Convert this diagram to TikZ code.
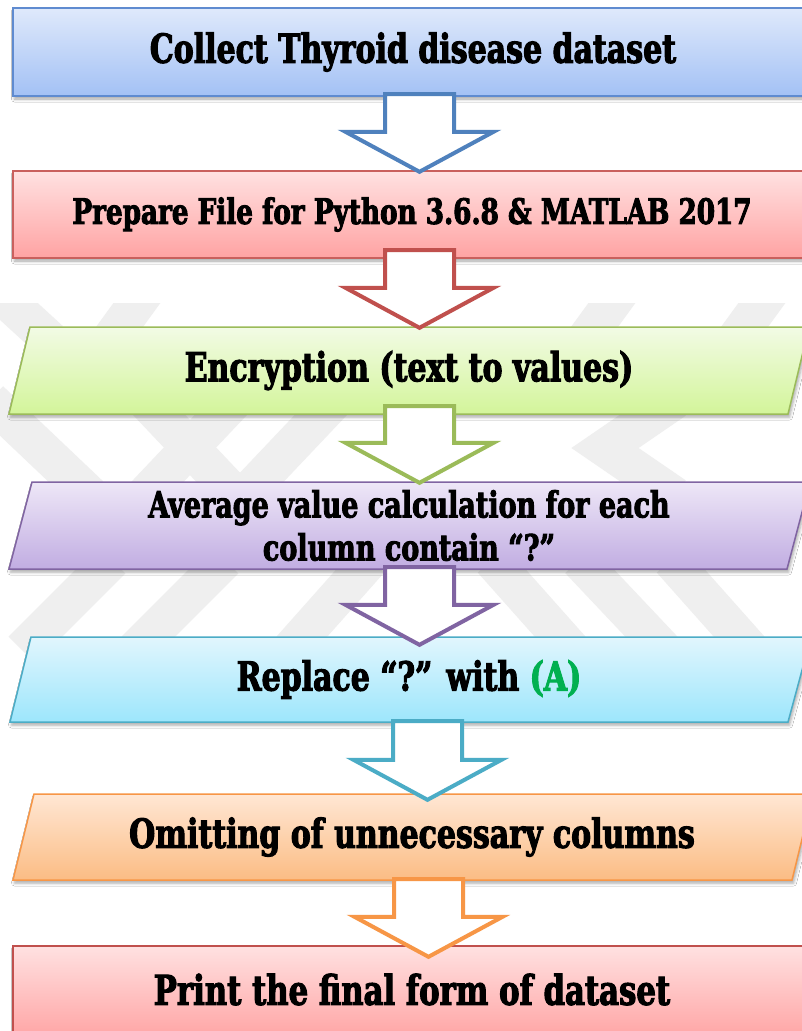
\documentclass[tikz,border=0pt]{standalone}
\usepackage{fontspec}
\usetikzlibrary{calc,shadows.blur}
\newfontfamily\stepfont{DejaVu Serif}[FakeStretch=0.75,FakeBold=2.5]

% box colours: border, top of gradient, bottom of gradient
\definecolor{bdA}{HTML}{5F8BD0}\definecolor{tpA}{HTML}{DFE9FB}\definecolor{btA}{HTML}{A3C1F5}
\definecolor{bdB}{HTML}{C9605D}\definecolor{tpB}{HTML}{FFE1E1}\definecolor{btB}{HTML}{FFA3A3}
\definecolor{bdC}{HTML}{9BBB59}\definecolor{tpC}{HTML}{F2FBE5}\definecolor{btC}{HTML}{D3F59A}
\definecolor{bdD}{HTML}{8064A2}\definecolor{tpD}{HTML}{EEE7F7}\definecolor{btD}{HTML}{C1ADE2}
\definecolor{bdE}{HTML}{4BACC6}\definecolor{tpE}{HTML}{E1F6FD}\definecolor{btE}{HTML}{9DE6FC}
\definecolor{bdF}{HTML}{F79646}\definecolor{tpF}{HTML}{FFE7D4}\definecolor{btF}{HTML}{FBBC84}
% arrow outlines
\definecolor{arA}{HTML}{4F81BD}\definecolor{arB}{HTML}{C0504D}\definecolor{arC}{HTML}{9BBB59}
\definecolor{arD}{HTML}{8064A2}\definecolor{arE}{HTML}{4BACC6}\definecolor{arF}{HTML}{F79646}
\definecolor{markgreen}{HTML}{00B050}
\definecolor{wmgray}{HTML}{EFEFEF}

% hollow block arrow: colour, from node, to node, axis x, shaft overlap, tip overlap
\newcommand\flowarrow[6]{%
  \draw[blockarrow, draw=#1] let \p1=(#2.south), \p2=(#3.north) in
    (#4-34.5pt,\y1+#5) -- (#4-34.5pt,\y2-#6+40pt) -- (#4-74pt,\y2-#6+40pt)
    -- (#4,\y2-#6) -- (#4+74pt,\y2-#6+40pt) -- (#4+34.5pt,\y2-#6+40pt)
    -- (#4+34.5pt,\y1+#5) -- cycle;}

\begin{document}
\begin{tikzpicture}[x=1pt,y=-1pt,
  boxshape/.style={line width=1.5pt,
    blur shadow={shadow xshift=1.5pt,shadow yshift=-3pt,shadow blur radius=3pt,shadow opacity=35}},
  steptext/.style={font=\stepfont\bfseries\fontsize{#1}{43}\selectfont,
    align=center,inner sep=0pt,text=black},
  blockarrow/.style={line width=4pt,fill=white,line join=miter},
  wm/.style={draw=wmgray,line width=38pt,line cap=butt,line join=miter}]
\clip (0,0) rectangle (802,1031);
\fill[white] (0,0) rectangle (802,1031);

% faint watermark stripes in the background
\begin{scope}
\clip (0,303) rectangle (802,660);
\draw[wm] (-10,285) -- (50,340);
\draw[wm] (150,285) -- (110,340);
\draw[wm] (625,285) -- (585,340);
\draw[wm] (775,285) -- (735,340);
\draw[wm] (-10,400) -- (90,495);
\draw[wm] (145,400) -- (235,495);
\draw[wm] (235,400) -- (145,495);
\draw[wm] (335,400) -- (245,495);
\draw[wm] (675,400) -- (605,448) -- (675,496);
\draw[wm] (112,560) -- (22,650);
\draw[wm] (225,560) -- (135,650);
\draw[wm] (370,560) -- (290,650);
\draw[wm] (492,560) -- (572,650);
\draw[wm] (579,560) -- (664,650);
\draw[wm] (671,560) -- (751,650);
\end{scope}

% process boxes
\path[boxshape,draw=bdA,top color=tpA,bottom color=btA] (13,8) rectangle (812,96);
\path[boxshape,draw=bdB,top color=tpB,bottom color=btB] (13,171) rectangle (812,258);
\path[boxshape,draw=bdC,top color=tpC,bottom color=btC] (30,327) -- (809,327) -- (788,414) -- (9,414) -- cycle;
\path[boxshape,draw=bdD,top color=tpD,bottom color=btD] (32,482) -- (810,482) -- (787,569) -- (9,569) -- cycle;
\path[boxshape,draw=bdE,top color=tpE,bottom color=btE] (31,637) -- (811,637) -- (788,722) -- (10,722) -- cycle;
\path[boxshape,draw=bdF,top color=tpF,bottom color=btF] (34,794) -- (813,794) -- (792,880) -- (13,880) -- cycle;
\path[boxshape,draw=arB,top color=tpB,bottom color=btB] (13,946) rectangle (812,1040);

% box labels
\node[steptext=40,minimum height=88pt] (s1) at (413,52) {Collect Thyroid disease dataset};
\node[steptext=35,minimum height=87pt] (s2) at (412,214.5) {Prepare File for Python 3.6.8 \& MATLAB 2017};
\node[steptext=40,minimum height=87pt] (s3) at (409,370.5) {Encryption (text to values)};
\node[steptext=36,minimum height=87pt] (s4) at (409,525.5) {Average value calculation for each\\column contain “?”};
\node[steptext=40,minimum height=85pt] (s5) at (409,679.5) {Replace “?” with \textcolor{markgreen}{(A)}};
\node[steptext=40,minimum height=86pt] (s6) at (412,837) {Omitting of unnecessary columns};
\node[steptext=41,minimum height=87pt] (s7) at (412,989.5) {Print the final form of dataset};

% connectors
\flowarrow{arA}{s1}{s2}{419.5pt}{2pt}{1pt}
\flowarrow{arB}{s2}{s3}{419.5pt}{8pt}{1pt}
\flowarrow{arC}{s3}{s4}{419.5pt}{8pt}{1pt}
\flowarrow{arD}{s4}{s5}{419.5pt}{2pt}{8pt}
\flowarrow{arE}{s5}{s6}{427.5pt}{1pt}{6pt}
\flowarrow{arF}{s6}{s7}{428.5pt}{1pt}{11pt}
\end{tikzpicture}
\end{document}
